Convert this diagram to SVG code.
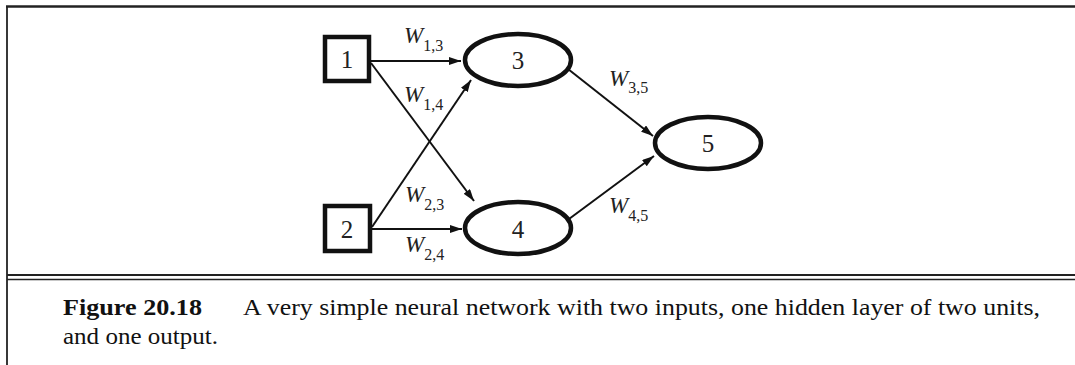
<svg xmlns="http://www.w3.org/2000/svg" width="1075" height="365" viewBox="0 0 1075 365">
<defs>
<marker id="arr" markerUnits="userSpaceOnUse" markerWidth="13" markerHeight="9" refX="12" refY="4" orient="auto">
<path d="M0,0 L12,4 L0,8 z" fill="#111"/>
</marker>
<style>
.frame{stroke:#222;fill:none}
.box{fill:#fff;stroke:#111;stroke-width:4.5}
.ell{fill:#fff;stroke:#111;stroke-width:4.5}
.num{font-family:"Liberation Serif","Times New Roman",Times,Tinos,serif;font-size:25px;fill:#222;text-anchor:middle}
.edge{stroke:#111;stroke-width:2;fill:none;marker-end:url(#arr)}
.w{font-family:"Liberation Serif","Times New Roman",Times,Tinos,serif;font-size:23px;font-style:italic;fill:#222}
.sub{font-size:16px;font-style:normal}
.cap{font-family:"Liberation Serif","Times New Roman",Times,Tinos,serif;font-size:23px;fill:#111}
</style>
</defs>
<rect width="1075" height="365" fill="#fff"/>
<g id="frame">
<line class="frame" x1="6" y1="6.5" x2="1075" y2="6.5" stroke-width="2.5"/>
<line class="frame" x1="7" y1="6" x2="7" y2="365" stroke-width="1.8"/>
<line class="frame" x1="7" y1="275" x2="1075" y2="275" stroke-width="1.8"/>
<line class="frame" x1="7" y1="279.5" x2="1075" y2="279.5" stroke-width="1.5"/>
</g>
<g id="connectors">
<line class="edge" x1="371" y1="61" x2="461" y2="61"/>
<line class="edge" x1="371" y1="63" x2="474" y2="201"/>
<line class="edge" x1="372" y1="227" x2="471" y2="80"/>
<line class="edge" x1="372" y1="229" x2="462" y2="229"/>
<line class="edge" x1="568" y1="69" x2="653" y2="136"/>
<line class="edge" x1="569" y1="219" x2="654" y2="156"/>
<text class="w" x="404" y="43">W<tspan class="sub" dy="8">1,3</tspan></text>
<text class="w" x="404" y="102">W<tspan class="sub" dy="8">1,4</tspan></text>
<text class="w" x="405" y="202">W<tspan class="sub" dy="8">2,3</tspan></text>
<text class="w" x="405" y="252">W<tspan class="sub" dy="8">2,4</tspan></text>
<text class="w" x="609" y="86">W<tspan class="sub" dy="7">3,5</tspan></text>
<text class="w" x="609" y="213">W<tspan class="sub" dy="8">4,5</tspan></text>
</g>
<g id="node1">
<rect class="box" x="325" y="37" width="44" height="44"/>
<text class="num" x="347" y="68">1</text>
</g>
<g id="node2">
<rect class="box" x="325" y="206" width="45" height="45"/>
<text class="num" x="347" y="238">2</text>
</g>
<g id="node3">
<ellipse class="ell" cx="518" cy="60" rx="53" ry="26"/>
<text class="num" x="518" y="69">3</text>
</g>
<g id="node4">
<ellipse class="ell" cx="518" cy="228" rx="53" ry="26"/>
<text class="num" x="518" y="238">4</text>
</g>
<g id="node5">
<ellipse class="ell" cx="708" cy="143" rx="53" ry="26"/>
<text class="num" x="708" y="152">5</text>
</g>
<g id="caption">
<text class="cap" x="63" y="315" font-weight="bold" textLength="139" lengthAdjust="spacingAndGlyphs">Figure 20.18</text>
<text class="cap" x="243" y="315" textLength="797" lengthAdjust="spacingAndGlyphs">A very simple neural network with two inputs, one hidden layer of two units,</text>
<text class="cap" x="63" y="344" textLength="155" lengthAdjust="spacingAndGlyphs">and one output.</text>
</g>
</svg>
